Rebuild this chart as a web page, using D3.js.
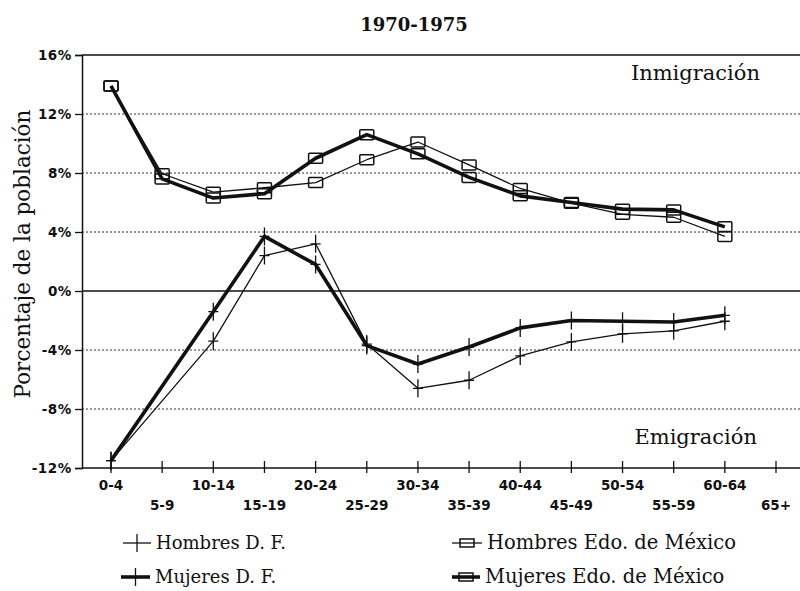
<!DOCTYPE html>
<html>
<head>
<meta charset="utf-8">
<script src="https://cdn.jsdelivr.net/npm/d3@7"></script>
<style>
  body { margin: 0; background: #fff; }
  .tick-label { font-family: "DejaVu Sans", sans-serif; font-weight: bold; fill: #111; }
  .serif { font-family: "DejaVu Serif", serif; fill: #111; }
</style>
</head>
<body>
<div class="linechart"></div>
<script>
// age groups on the x axis
var ageGroups = ["0-4", "5-9", "10-14", "15-19", "20-24", "25-29", "30-34",
  "35-39", "40-44", "45-49", "50-54", "55-59", "60-64", "65+"];

// y axis ticks (percent)
var yTicks = [16, 12, 8, 4, 0, -4, -8, -12];

// series values, percent of population (null = no point)
var hombresDF = [-11.5, null, -3.4, 2.4, 3.2, -3.6, -6.6, -6.05, -4.4, -3.45, -2.9, -2.7, -2.05, null];
var mujeresDF = [-11.5, null, -1.4, 3.7, 1.8, -3.7, -4.95, -3.8, -2.5, -2.0, -2.05, -2.1, -1.65, null];
var hombresEdoMex = [13.9, 7.95, 6.7, 7.0, 7.35, 8.9, 10.1, 8.55, 6.95, 5.95, 5.2, 5.0, 3.7, null];
var mujeresEdoMex = [13.9, 7.6, 6.3, 6.6, 9.0, 10.6, 9.3, 7.7, 6.45, 6.0, 5.55, 5.5, 4.35, null];

var seriesNames = ["Hombres D. F.", "Mujeres D. F.", "Hombres Edo. de México", "Mujeres Edo. de México"];

var svgWidth = 800;
var svgHeight = 591;

var margin = { top: 55, right: 0, bottom: 123, left: 82 };
var width = svgWidth - margin.left - margin.right;
var height = svgHeight - margin.top - margin.bottom;

var svg = d3.select(".linechart")
  .append("svg")
  .attr("width", svgWidth)
  .attr("height", svgHeight);

var chartGroup = svg.append("g")
  .attr("transform", `translate(${margin.left}, ${margin.top})`);

// scales
var xScale = d3.scalePoint()
  .domain(ageGroups)
  .range([29, width - 24]);

var yScale = d3.scaleLinear()
  .domain([-12, 16])
  .range([height, 0]);

// dotted gridlines
chartGroup.selectAll(".grid")
  .data(yTicks.filter(d => d !== 0 && d !== 16 && d !== -12))
  .enter()
  .append("line")
  .attr("x1", 0)
  .attr("x2", width)
  .attr("y1", d => yScale(d))
  .attr("y2", d => yScale(d))
  .attr("stroke", "#333")
  .attr("stroke-width", 1)
  .attr("stroke-dasharray", "2,2");

// top frame line and zero line
[16, 0].forEach(function(v) {
  chartGroup.append("line")
    .attr("x1", 0)
    .attr("x2", width)
    .attr("y1", yScale(v))
    .attr("y2", yScale(v))
    .attr("stroke", "#111")
    .attr("stroke-width", 1.5);
});

// y axis
var leftAxis = d3.axisLeft(yScale)
  .tickValues(yTicks)
  .tickSize(7)
  .tickPadding(3)
  .tickFormat(d => d + "%");

var yAxis = chartGroup.append("g").call(leftAxis);
yAxis.attr("font-size", null).attr("font-family", null);
yAxis.select(".domain").attr("stroke", "#111").attr("stroke-width", 1.5);
yAxis.selectAll(".tick line").attr("stroke", "#111").attr("stroke-width", 1.3);
yAxis.selectAll("text")
  .attr("class", "tick-label")
  .style("font-size", "13.5px")
  .attr("letter-spacing", 0.6);

// x axis: ticks cross the line, labels alternate on two rows
var xAxis = chartGroup.append("g")
  .attr("transform", `translate(0, ${height})`);

xAxis.append("line")
  .attr("x1", 0)
  .attr("x2", width)
  .attr("stroke", "#111")
  .attr("stroke-width", 1.5);

xAxis.selectAll(".xtick")
  .data(ageGroups)
  .enter()
  .append("line")
  .attr("x1", d => xScale(d))
  .attr("x2", d => xScale(d))
  .attr("y1", -7)
  .attr("y2", 5)
  .attr("stroke", "#111")
  .attr("stroke-width", 1.3);

xAxis.selectAll(".xlabel")
  .data(ageGroups)
  .enter()
  .append("text")
  .attr("class", "tick-label")
  .style("font-size", "13.5px")
  .attr("text-anchor", "middle")
  .attr("x", d => xScale(d))
  .attr("y", (d, i) => i % 2 === 0 ? 22 : 42)
  .text(d => d);

// lines
var lineGen = d3.line()
  .x(d => xScale(d.group))
  .y(d => yScale(d.value));

function toPoints(values) {
  return values
    .map((v, i) => ({ group: ageGroups[i], value: v }))
    .filter(d => d.value !== null);
}

var series = [
  { values: hombresDF, width: 1.3, marker: "plus" },
  { values: mujeresDF, width: 3.6, marker: "plus" },
  { values: hombresEdoMex, width: 1.3, marker: "square" },
  { values: mujeresEdoMex, width: 3.6, marker: "square" }
];

series.forEach(function(s) {
  var pts = toPoints(s.values);

  chartGroup.append("path")
    .datum(pts)
    .attr("fill", "none")
    .attr("stroke", "#111")
    .attr("stroke-width", s.width)
    .attr("stroke-linejoin", "round")
    .attr("d", lineGen);

  if (s.marker === "plus") {
    chartGroup.selectAll(null)
      .data(pts)
      .enter()
      .append("path")
      .attr("d", d => {
        var x = xScale(d.group), y = yScale(d.value);
        return `M${x},${y - 9}V${y + 9}M${x - 5},${y}H${x + 5}`;
      })
      .attr("stroke", "#111")
      .attr("stroke-width", 1.3)
      .attr("fill", "none");
  } else {
    chartGroup.selectAll(null)
      .data(pts)
      .enter()
      .append("rect")
      .attr("x", d => xScale(d.group) - 7)
      .attr("y", d => yScale(d.value) - 5)
      .attr("width", 14)
      .attr("height", 10)
      .attr("rx", 1)
      .attr("fill", "none")
      .attr("stroke", "#111")
      .attr("stroke-width", 1.5);
  }
});

// annotations
chartGroup.append("text")
  .attr("class", "serif")
  .attr("font-size", 21)
  .attr("text-anchor", "end")
  .attr("x", 678)
  .attr("y", 25)
  .text("Inmigración");

chartGroup.append("text")
  .attr("class", "serif")
  .attr("font-size", 21)
  .attr("text-anchor", "end")
  .attr("x", 675)
  .attr("y", 389)
  .text("Emigración");

// title
svg.append("text")
  .attr("class", "serif")
  .attr("font-size", 18)
  .attr("font-weight", "bold")
  .attr("text-anchor", "middle")
  .attr("x", 414)
  .attr("y", 31)
  .text("1970-1975");

// y axis title
svg.append("text")
  .attr("class", "serif")
  .attr("font-size", 21.5)
  .attr("text-anchor", "middle")
  .attr("transform", "translate(30, 254) rotate(-90)")
  .text("Porcentaje de la población");

// legend
var legendItems = [
  { name: seriesNames[0], x: 123, y: 543, width: 1.3, marker: "plus", len: 28, size: 18 },
  { name: seriesNames[1], x: 121, y: 577, width: 3.6, marker: "plus", len: 29, size: 18 },
  { name: seriesNames[2], x: 452, y: 543, width: 1.3, marker: "square", len: 30, size: 19.5 },
  { name: seriesNames[3], x: 452, y: 577, width: 3.6, marker: "square", len: 28, size: 19.5 }
];

var legend = svg.append("g");

legendItems.forEach(function(item) {
  var cx = item.x + item.len / 2;
  legend.append("line")
    .attr("x1", item.x)
    .attr("x2", item.x + item.len)
    .attr("y1", item.y)
    .attr("y2", item.y)
    .attr("stroke", "#111")
    .attr("stroke-width", item.width);
  if (item.marker === "plus") {
    legend.append("line")
      .attr("x1", cx).attr("x2", cx)
      .attr("y1", item.y - 9).attr("y2", item.y + 9)
      .attr("stroke", "#111")
      .attr("stroke-width", 1.3);
  } else {
    legend.append("rect")
      .attr("x", cx - 7)
      .attr("y", item.y - 4)
      .attr("width", 14)
      .attr("height", 8)
      .attr("fill", "none")
      .attr("stroke", "#111")
      .attr("stroke-width", 1.5);
  }
  legend.append("text")
    .attr("class", "serif")
    .attr("font-size", item.size)
    .attr("x", item.x + item.len + 5)
    .attr("y", item.y + 6)
    .text(item.name);
});
</script>
</body>
</html>
